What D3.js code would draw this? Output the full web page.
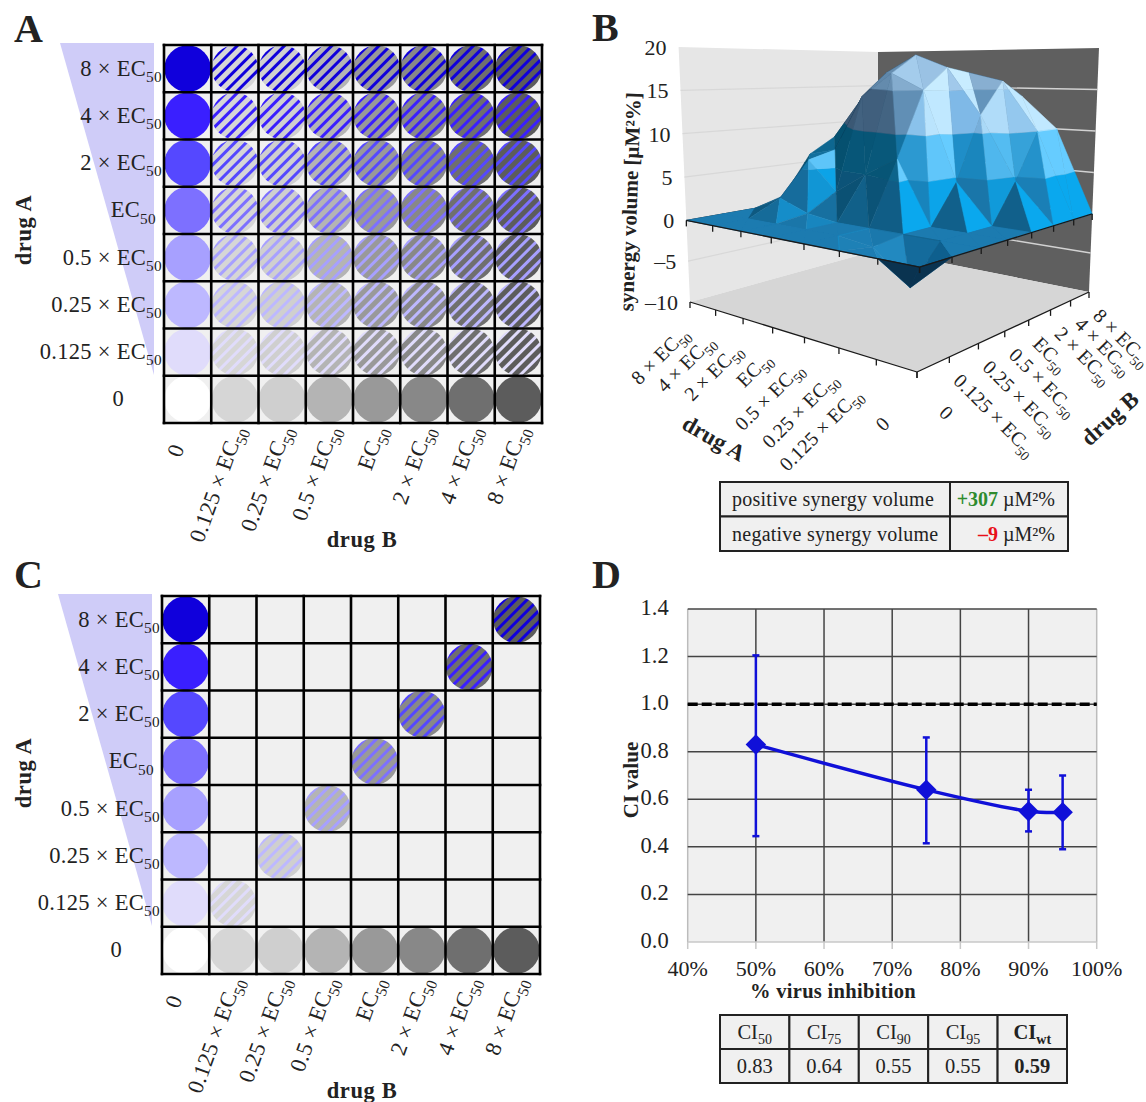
<!DOCTYPE html>
<html><head><meta charset="utf-8"><script src="https://cdn.jsdelivr.net/npm/d3@7/dist/d3.min.js"></script>
<style>html,body{margin:0;background:#fff}svg{display:block}text{font-family:"Liberation Serif",serif;fill:#222}</style></head>
<body><svg id="c" width="1146" height="1102"></svg>
<script>
const doses=["0","0.125","0.25","0.5","EC","2","4","8"];
const blueShades=["#ffffff","#e0dcfb","#bdb8ff","#a7a0ff","#7d70ff","#5548ff","#3a1fff","#1000dc"];
const grayShades=["#ffffff","#d6d6d6","#cfcfcf","#b4b4b4","#999999","#888888","#6f6f6f","#5c5c5c"];
// synergy surface: rows drug A (0 .. 8×EC50), columns drug B (0 .. 8×EC50)
const synergy=[
[0,0,0,0,0,0,0,0],
[0,-4,0,0,0,4.5,10,10],
[0,-.5,0,0,4.5,12,16,14],
[0,0,0,7.2,15,17.7,17,15],
[0,0,0,5,17,19.3,17,14],
[0,0,.5,2.5,14,17,15,12],
[0,0,1.8,6,6.9,13,12,9],
[0,0,0,1,6,8,7,5]];
const zTicks=[-10,-5,0,5,10,15,20];
const ciX=[50,75,90,95];
const ciY=[.83,.64,.55,.545];
const ciLow=[.445,.415,.465,.39];
const ciHigh=[1.205,.86,.64,.70];
const ciXTicks=[40,50,60,70,80,90,100];
const ciYTicks=[0,.2,.4,.6,.8,1,1.2,1.4];
const tableD=[["50","0.83"],["75","0.64"],["90","0.55"],["95","0.55"],["wt","0.59"]];
const tableB=[["positive synergy volume","+307","#2e8b2e"],["negative synergy volume","–9","#e8101a"]];

const svg=d3.select("#c");
function doseText(sel,d,size){ // writes "8 × EC50" into a text element
  const pre=d==="0"?"0":(d==="EC"?"":d+" × ");
  sel.append("tspan").text(pre);
  if(d!=="0"){sel.append("tspan").text("EC");
    sel.append("tspan").attr("dy",size*.28).attr("font-size",size*.68).text("50");}
}
let uid=0;
function matrix(g,x0,y0,size,triA,triB,showCell){
  const sc=d3.scaleBand().domain(d3.range(8)).range([0,size]);
  const gg=g.append("g").attr("transform",`translate(${x0},${y0})`);
  gg.append("polygon").attr("points",triA.map(p=>p.join()).join(" ")).attr("fill","#cfccf8");
  gg.append("polygon").attr("points",triB.map(p=>p.join()).join(" ")).attr("fill","#d6d6d6");
  gg.append("rect").attr("width",size).attr("height",size).attr("fill","#f0f0f0");
  const bw=sc.bandwidth(),r=bw/2-.3;
  const rowY=i=>sc(7-i);
  const defs=gg.append("defs");
  for(let a=0;a<8;a++)for(let b=0;b<8;b++){
    if(!showCell(a,b))continue;
    const cx=sc(b)+bw/2,cy=rowY(a)+bw/2;
    if(a===0||b===0){
      gg.append("circle").attr("cx",cx).attr("cy",cy).attr("r",r).attr("fill",b===0?blueShades[a]:grayShades[b]);
    }else{
      const id="h"+(uid++);
      const p=defs.append("pattern").attr("id",id).attr("patternUnits","userSpaceOnUse").attr("width",8).attr("height",8).attr("patternTransform",`translate(${cx},${cy}) rotate(-45)`);
      p.append("rect").attr("width",8).attr("height",8).attr("fill",grayShades[b]);
      p.append("rect").attr("width",8).attr("height",3).attr("fill",blueShades[a]);
      gg.append("circle").attr("cx",cx).attr("cy",cy).attr("r",r).attr("fill",`url(#${id})`);
    }
  }
  for(let k=0;k<=8;k++){
    const v=k*bw;
    gg.append("line").attr("x1",v).attr("x2",v).attr("y1",-1.3).attr("y2",size+1.3).attr("stroke","#000").attr("stroke-width",2.6);
    gg.append("line").attr("y1",v).attr("y2",v).attr("x1",-1.3).attr("x2",size+1.3).attr("stroke","#000").attr("stroke-width",2.6);
  }
  const fs=22.5;
  doses.forEach((d,a)=>{
    const t=gg.append("text").attr("font-size",fs).attr("text-anchor","end").attr("letter-spacing",.3)
      .attr("x",d==="0"?-40:(d==="EC"?-8:-2)).attr("y",rowY(a)+bw/2+7);
    doseText(t,d,fs);
  });
  doses.forEach((d,b)=>{
    const t=gg.append("text").attr("font-size",fs).attr("letter-spacing",.3).attr("text-anchor",d==="0"?"middle":"end")
      .attr("transform",d==="0"?`translate(${sc(b)+bw/2-5},${size+30}) rotate(-70)`:`translate(${sc(b)+bw/2+10},${size+6}) rotate(-70)`);
    doseText(t,d,fs);
  });
}
const abs=(x,y,t,extra={})=>{const e=svg.append("text").attr("x",x).attr("y",y).text(t);for(const k in extra)e.attr(k,extra[k]);return e;};
const triAa=[[-104,-2],[-10,-2],[-10,330]], triBa=[[49,2],[378,2],[378,97]];
matrix(svg.append("g"),164,45,378,triAa,triBa,()=>true);
matrix(svg.append("g"),162,596,378,triAa,triBa,(a,b)=>a===0||b===0||a===b);
[["A",14,42],["B",592,41],["C",14,588],["D",592,588]].forEach(d=>abs(d[1],d[2],d[0],{"font-size":40,"font-weight":"bold",fill:"#111"}));
[[362,547],[362,1098]].forEach(p=>abs(p[0],p[1],"drug B",{"font-size":22.5,"font-weight":"bold","text-anchor":"middle","letter-spacing":.6}));
[[31,230],[31,773]].forEach(p=>svg.append("text").attr("transform",`translate(${p[0]},${p[1]}) rotate(-90)`).attr("font-size",22.5).attr("font-weight","bold").attr("text-anchor","middle").attr("letter-spacing",.6).text("drug A"));

// --- Panel B: surface with perspective
const pB=(function(){
  const fA=d3.scaleLinear().domain([0,7]).range([0,1]);
  const zS=d3.scaleLinear().domain([-10,0,20]).range([0,.32,1]);
  const wA=1.31,wB=.72;
  const warpA=i=>{const u=1-fA(i);return 1-u/(u+wA*(1-u));};
  const warpB=j=>{const u=fA(j);return u/(u+wB*(1-u));};
  const floor={F:[917,372],L:[690,302],R:[1089,292],B:[878,250]};
  const top={F:[925,44],L:[678.6,47],R:[1099,48],B:[878,52]};
  const cz=(k,t)=>[floor[k][0]+(top[k][0]-floor[k][0])*t,floor[k][1]+(top[k][1]-floor[k][1])*t];
  return function(i,j,z){
    const p=warpA(i),q=warpB(j),t=zS(z);
    const F=cz("F",t),L=cz("L",t),R=cz("R",t),B=cz("B",t);
    const m=n=>(1-p)*(1-q)*F[n]+p*(1-q)*L[n]+(1-p)*q*R[n]+p*q*B[n];
    return [m(0),m(1)];
  };
})();
const gB=svg.append("g");
const poly=(pts,fill)=>gB.append("polygon").attr("points",pts.map(p=>p.join()).join(" ")).attr("fill",fill);
poly([pB(7,0,-10),pB(7,0,20),pB(7,7,20),pB(7,7,-10)],"#e6e6e6");
poly([pB(7,7,-10),pB(7,7,20),pB(0,7,20),pB(0,7,-10)],"#5f5f5f");
zTicks.filter(z=>z>-10&&z<20).forEach(z=>{
  const a=pB(7,0,z),b=pB(7,7,z),c=pB(0,7,z);
  gB.append("path").attr("d",d3.line()([a,b])).attr("stroke","#d8d8d8").attr("stroke-width",1.2).attr("fill","none");
  gB.append("path").attr("d",d3.line()([b,c])).attr("stroke","#d2d2d2").attr("stroke-width",1.4).attr("fill","none");
});
poly([pB(7,0,-10),pB(0,0,-10),pB(0,7,-10),pB(7,7,-10)],"#d6d6d6");
gB.append("path").attr("d",d3.line()([pB(7,0,0),pB(7,7,0)])).attr("stroke","#222").attr("stroke-width",1).attr("fill","none");

const lerp=(a,b,t)=>({x:a.x+(b.x-a.x)*t,y:a.y+(b.y-a.y)*t,z:a.z+(b.z-a.z)*t});
function clip(pts,lo,hi){
  const cut=(ps,keep,val)=>{const out=[];ps.forEach((p,k)=>{const q=ps[(k+1)%ps.length];const kp=keep(p),kq=keep(q);
    if(kp)out.push(p); if(kp!==kq)out.push(lerp(p,q,(val-p.z)/(q.z-p.z)));});return out;};
  let r=cut(pts,p=>p.z>=lo,lo); if(r.length)r=cut(r,p=>p.z<=hi,hi); return r;
}
const bandRamp={
 "-2":["#0e5f8e","#1c7bb0","#2289c0"],
 "-1":["#0e5f8e","#1c7bb0","#2289c0"],
 "0":["#0a4f72","#1c7bb0","#0aa8ee"],
 "1":["#05506f","#1d8cc6","#66ccff"],
 "2":["#3b5874","#7db8e6","#c0e8ff"],
 "3":["#5f86a8","#a0c8ea","#c8ecff"]};
const underside="#0a3350";
const ramp=b=>d3.scaleLinear().domain([0,.6,1]).range(bandRamp[b]).clamp(true);
const lightJ=.55,lightI=.75,lightGain=.8;
function shade(t){
  const [a,b,c]=t;
  const h=.32;
  const u=[b.j-a.j,b.i-a.i,(b.z-a.z)*h],v=[c.j-a.j,c.i-a.i,(c.z-a.z)*h];
  let n=[u[1]*v[2]-u[2]*v[1],u[2]*v[0]-u[0]*v[2],u[0]*v[1]-u[1]*v[0]];
  if(n[2]<0)n=n.map(d=>-d);
  const l=Math.hypot(...n);n=n.map(d=>d/l);
  return .6+(n[0]*lightJ-n[1]*lightI)*lightGain;
}
const vtx=(i,j)=>{const z=synergy[i][j],p=pB(i,j,z);return {i,j,z,x:p[0],y:p[1]};};
const area=t=>(t[1].x-t[0].x)*(t[2].y-t[0].y)-(t[2].x-t[0].x)*(t[1].y-t[0].y);
const quads=[];
for(let i=0;i<7;i++)for(let j=0;j<7;j++)quads.push([i,j]);
quads.sort((a,b)=>(b[0]+b[1])-(a[0]+a[1]));
quads.forEach(([i,j])=>{
  [[vtx(i,j),vtx(i+1,j),vtx(i+1,j+1)],[vtx(i,j),vtx(i+1,j+1),vtx(i,j+1)]].forEach(tri=>{
    const s=shade(tri), under=area(tri)<0;
    for(let b=-2;b<=3;b++){
      const pg=clip(tri,b*5,(b+1)*5);
      if(pg.length<3)continue;
      const col=under?underside:ramp(b)(s);
      gB.append("polygon").attr("points",pg.map(p=>p.x+","+p.y).join(" ")).attr("fill",col).attr("stroke",col).attr("stroke-width",.5);
    }
  });
});
// axis edges and ticks
const edge=(a,b,st)=>gB.append("path").attr("d",d3.line()([a,b])).attr("stroke",st||"#1a1a1a").attr("stroke-width",1.3).attr("fill","none");
[0,-10].forEach(z=>{
  edge(pB(7,0,z),pB(0,0,z));edge(pB(0,0,z),pB(0,7,z));
  d3.range(8).forEach(k=>{
    const a=pB(k,0,z),b=pB(0,k,z);
    edge(a,[a[0],a[1]+6]);edge(b,[b[0],b[1]+6]);
  });
});
zTicks.forEach(z=>{const p=pB(7,0,z);
  abs(p[0]-12,p[1]+8,z<0?"–"+(-z):z,{"font-size":22,"text-anchor":"end"});});
svg.append("text").attr("transform","translate(637,202) rotate(-88)").attr("font-size",21).attr("font-weight","bold").attr("text-anchor","middle").text("synergy volume [µM²%]");
const bFs=20;
doses.forEach((d,i)=>{
  const p=pB(i,0,-10);
  const nudge=d==="0.125"?[-13,4]:[0,0];
  const t=svg.append("text").attr("font-size",bFs).attr("letter-spacing",.15).attr("text-anchor","end")
   .attr("transform",d==="0"?`translate(${p[0]-26},${p[1]+53}) rotate(-45)`:`translate(${p[0]+nudge[0]},${p[1]+33+nudge[1]}) rotate(-45)`);
  doseText(t,d,bFs);
  const q=pB(0,i,-10);
  const u=svg.append("text").attr("font-size",bFs).attr("letter-spacing",.15)
   .attr("transform",d==="0"?`translate(${q[0]+21},${q[1]+42}) rotate(45)`:`translate(${q[0]+3},${q[1]+25}) rotate(45)`);
  doseText(u,d,bFs);
});
svg.append("text").attr("transform","translate(710,445) rotate(30)").attr("font-size",23).attr("font-weight","bold").attr("text-anchor","middle").text("drug A");
svg.append("text").attr("transform","translate(1115,424) rotate(-42)").attr("font-size",23).attr("font-weight","bold").attr("text-anchor","middle").text("drug B");

function cellRect(x,y,w,h){svg.append("rect").attr("x",x).attr("y",y).attr("width",w).attr("height",h).attr("fill","#f0f0f0").attr("stroke","#222").attr("stroke-width",2);}
tableB.forEach((r,k)=>{
  const y=482+k*34.5;
  cellRect(720,y,230,34.5);cellRect(950,y,118,34.5);
  abs(732,y+24,r[0],{"font-size":20,"letter-spacing":.25});
  const t=abs(1055,y+24,"",{"font-size":20,"text-anchor":"end"});
  t.append("tspan").attr("style","fill:"+r[2]).attr("font-weight","bold").text(r[1]);
  t.append("tspan").text(" µM²%");
});

// --- Panel D
const xD=d3.scaleLinear().domain([40,100]).range([687.7,1096.7]);
const yD=d3.scaleLinear().domain([0,1.4]).range([942,609]);
const gD=svg.append("g");
gD.append("rect").attr("x",xD(40)).attr("y",yD(1.4)).attr("width",xD(100)-xD(40)).attr("height",yD(0)-yD(1.4)).attr("fill","#f0f0f0");
ciXTicks.forEach(v=>{
  const edgeX=v===40||v===100;
  gD.append("line").attr("x1",xD(v)).attr("x2",xD(v)).attr("y1",yD(1.4)).attr("y2",yD(0)).attr("stroke",edgeX?"#bcbcbc":"#444").attr("stroke-width",1.5);
  gD.append("line").attr("x1",xD(v)).attr("x2",xD(v)).attr("y1",yD(0)).attr("y2",yD(0)+7).attr("stroke","#c8c8c8").attr("stroke-width",1.5);
  abs(xD(v),976,v+"%",{"font-size":22,"text-anchor":"middle"});
});
ciYTicks.forEach(v=>{
  gD.append("line").attr("x1",xD(40)).attr("x2",xD(100)).attr("y1",yD(v)).attr("y2",yD(v)).attr("stroke",v===0?"#c8c8c8":"#444").attr("stroke-width",1.5);
  abs(xD(40)-19,yD(v)+6,v.toFixed(1),{"font-size":22.5,"text-anchor":"end"});
});
gD.append("line").attr("x1",xD(40)).attr("x2",xD(100)).attr("y1",yD(1)).attr("y2",yD(1)).attr("stroke","#000").attr("stroke-width",3.5).attr("stroke-dasharray","10 4");
const blue="#1010d8";
ciX.forEach((v,k)=>{
  const x=xD(v);
  gD.append("line").attr("x1",x).attr("x2",x).attr("y1",yD(ciLow[k])).attr("y2",yD(ciHigh[k])).attr("stroke",blue).attr("stroke-width",2.5);
  [ciLow[k],ciHigh[k]].forEach(e=>gD.append("line").attr("x1",x-3.5).attr("x2",x+3.5).attr("y1",yD(e)).attr("y2",yD(e)).attr("stroke",blue).attr("stroke-width",2.5));
});
gD.append("path").attr("d",d3.line().x((d,k)=>xD(ciX[k])).y(d=>yD(d)).curve(d3.curveCatmullRom.alpha(.5))(ciY)).attr("fill","none").attr("stroke",blue).attr("stroke-width",3.5);
gD.selectAll("path.m").data(ciY).join("path").attr("class","m").attr("d",d3.symbol(d3.symbolSquare,210)()).attr("fill",blue)
  .attr("transform",(d,k)=>`translate(${xD(ciX[k])},${yD(d)}) rotate(45)`);
abs(833,998,"% virus inhibition",{"font-size":20.5,"font-weight":"bold","text-anchor":"middle","letter-spacing":.3});
svg.append("text").attr("transform","translate(638,780) rotate(-90)").attr("font-size",21).attr("font-weight","bold").attr("text-anchor","middle").text("CI value");
tableD.forEach((c,k)=>{
  const w=69.4,x=720+k*w,b=c[0]==="wt";
  cellRect(x,1015,w,34);cellRect(x,1049,w,34);
  const t=abs(x+w/2,1039,"",{"font-size":20.5,"text-anchor":"middle","font-weight":b?"bold":"normal"});
  t.append("tspan").text("CI");
  t.append("tspan").attr("dy",5).attr("font-size",14).text(c[0]);
  abs(x+w/2,1073,c[1],{"font-size":20.5,"text-anchor":"middle","font-weight":b?"bold":"normal"});
});
</script></body></html>
